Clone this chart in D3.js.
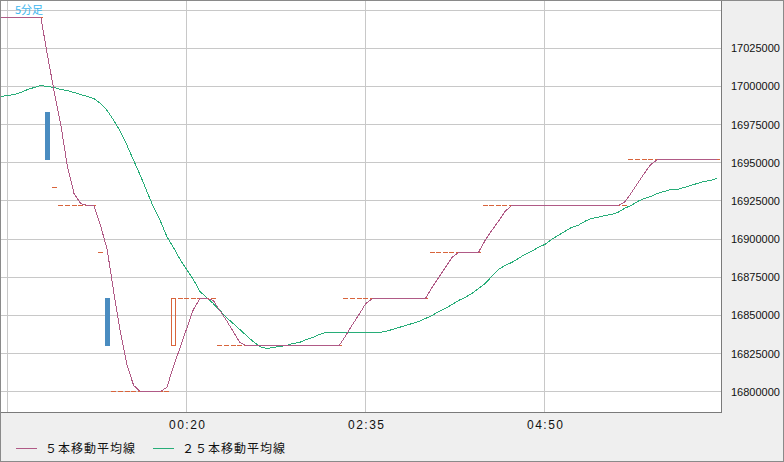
<!DOCTYPE html>
<html>
<head>
<meta charset="utf-8">
<script src="https://cdn.jsdelivr.net/npm/d3@7"></script>
<style>
  body { margin: 0; background: #fff; }
  svg { display: block; font-family: "Liberation Sans", Arial, sans-serif; }
</style>
</head>
<body>
<div id="chart"></div>
<script>
// frame constants
const FRAME_WIDTH = 784;
const FRAME_HEIGHT = 462;
const PLOT = {left: 1, top: 1, right: 721, bottom: 412};

// 5 minute bars, 22:00 .. 07:00
const START_MIN = 22 * 60;
const times = d3.range(109).map(i => {
	const m = (START_MIN + i * 5) % 1440;
	return String(Math.floor(m / 60)).padStart(2, "0") + ":" + String(m % 60).padStart(2, "0");
});

// candle opens / closes (no wicks visible in this chart)
const opens = [
	17045000, 17045000, 17045000, 17045000, 17045000, 17045000, 17045000,
	16983000, 16934000,
	16922000, 16922000, 16922000, 16922000, 16922000, 16922000,
	16891000, 16861000,
	16800000, 16800000, 16800000, 16800000, 16800000, 16800000, 16800000, 16800000, 16800000,
	16830000,
	16861000, 16861000, 16861000, 16861000, 16861000, 16861000,
	16830000, 16830000, 16830000, 16830000, 16830000, 16830000, 16830000, 16830000, 16830000, 16830000,
	16830000, 16830000, 16830000, 16830000, 16830000, 16830000, 16830000, 16830000, 16830000,
	16861000, 16861000, 16861000, 16861000, 16861000, 16861000, 16861000, 16861000, 16861000, 16861000,
	16861000, 16861000, 16861000,
	16891000, 16891000, 16891000, 16891000, 16891000, 16891000, 16891000, 16891000,
	16922000, 16922000, 16922000, 16922000, 16922000, 16922000, 16922000, 16922000, 16922000, 16922000,
	16922000, 16922000, 16922000, 16922000, 16922000, 16922000, 16922000, 16922000, 16922000, 16922000,
	16922000, 16922000,
	16952000, 16952000, 16952000, 16952000, 16952000, 16952000, 16952000, 16952000, 16952000, 16952000,
	16952000, 16952000, 16952000, 16952000
];
const closes = [
	17045000, 17045000, 17045000, 17045000, 17045000, 17045000, 17045000,
	16952000, 16934000,
	16922000, 16922000, 16922000, 16922000, 16922000, 16922000,
	16891000, 16830000,
	16800000, 16800000, 16800000, 16800000, 16800000, 16800000, 16800000, 16800000, 16800000,
	16861000,
	16861000, 16861000, 16861000, 16861000, 16861000, 16861000,
	16830000, 16830000, 16830000, 16830000, 16830000, 16830000, 16830000, 16830000, 16830000, 16830000,
	16830000, 16830000, 16830000, 16830000, 16830000, 16830000, 16830000, 16830000, 16830000,
	16861000, 16861000, 16861000, 16861000, 16861000, 16861000, 16861000, 16861000, 16861000, 16861000,
	16861000, 16861000, 16861000,
	16891000, 16891000, 16891000, 16891000, 16891000, 16891000, 16891000, 16891000,
	16922000, 16922000, 16922000, 16922000, 16922000, 16922000, 16922000, 16922000, 16922000, 16922000,
	16922000, 16922000, 16922000, 16922000, 16922000, 16922000, 16922000, 16922000, 16922000, 16922000,
	16922000, 16922000,
	16952000, 16952000, 16952000, 16952000, 16952000, 16952000, 16952000, 16952000, 16952000, 16952000,
	16952000, 16952000, 16952000, 16952000
];

// 5 bar moving average
const ma5 = [
	17045000, 17045000, 17045000, 17045000, 17045000, 17045000, 17045000,
	17020600, 16997000, 16975400, 16947300, 16929600, 16923000, 16922000, 16922000,
	16909200, 16892900, 16864700, 16838500, 16816900, 16803800,
	16800000, 16800000, 16800000, 16800000,
	16802500, 16816400, 16828700, 16841200, 16853600, 16861000, 16861000, 16860000,
	16853000, 16846500, 16839500, 16832500,
	16830000, 16830000, 16830000, 16830000, 16830000, 16830000, 16830000, 16830000,
	16830000, 16830000, 16830000, 16830000, 16830000, 16830000, 16830000,
	16836900, 16843800, 16850600, 16857500,
	16861000, 16861000, 16861000, 16861000, 16861000, 16861000, 16861000, 16861000, 16861000,
	16868000, 16874800, 16881300, 16887700,
	16891000, 16891000, 16891000, 16891500,
	16898800, 16905300, 16911700, 16918200,
	16922000, 16922000, 16922000, 16922000, 16922000, 16922000, 16922000, 16922000, 16922000,
	16922000, 16922000, 16922000, 16922000, 16922000, 16922000, 16922000, 16922000,
	16924000, 16930100, 16936400, 16942900, 16949100,
	16952000, 16952000, 16952000, 16952000, 16952000, 16952000, 16952000, 16952000, 16952000, 16952000
];

// 25 bar moving average
const ma25 = [
	16993400, 16993900, 16994500, 16996000, 16997700, 16999000, 17000300, 16999800, 16999000, 16998200,
	16997200, 16996000, 16994700, 16993400, 16991800, 16988600, 16984300, 16978000, 16970200, 16961000,
	16951200, 16941700, 16930900, 16921000, 16911900, 16901400, 16894200, 16886300, 16879800, 16873200,
	16865700, 16861400, 16857500, 16852900, 16848300, 16844400, 16840500, 16836900, 16832600, 16829300,
	16828300, 16828800, 16829600, 16830400, 16831300, 16832400, 16834200, 16835500, 16837200, 16838800,
	16839100, 16838500, 16838500, 16838500, 16838500, 16838500, 16838500, 16838500, 16839500, 16840700,
	16842000, 16843300, 16844700, 16846100, 16847900, 16849900, 16852300, 16854700, 16857200, 16859700,
	16862000, 16864400, 16867300, 16871200, 16875500, 16879800, 16882600, 16884900, 16887300, 16889600,
	16891900, 16894300, 16896700, 16899500, 16902300, 16905100, 16907300, 16909200, 16911200, 16913200,
	16914200, 16915300, 16916400, 16917600, 16920000, 16922300, 16924800, 16926600, 16928200, 16929900,
	16931500, 16932200, 16932800, 16934000, 16935100, 16936300, 16937500, 16938700, 16939800
];

// axis ticks
const yTicks = [16800000, 16825000, 16850000, 16875000, 16900000, 16925000, 16950000, 16975000, 17000000, 17025000];
const yGrid = yTicks.concat([17050000]);
const xGrid = ["22:05", "00:20", "02:35", "04:50"];
const xTickLabels = ["00:20", "02:35", "04:50"];

const legendNames = ["５本移動平均線", "２５本移動平均線"];
const COLORS = {ma5: "#b05a86", ma25: "#27ad78", up: "#d8643c", down: "#4a8cc0",
				grid: "#c8c8c8", panel: "#efefef", border: "#7a7a7a"};

const svg = d3.select("#chart")
	.append("svg")
		.attr("width", FRAME_WIDTH)
		.attr("height", FRAME_HEIGHT);

// panels
svg.append("rect").attr("x", 0).attr("y", 0).attr("width", FRAME_WIDTH).attr("height", FRAME_HEIGHT)
	.attr("fill", COLORS.panel);
svg.append("rect").attr("x", PLOT.left).attr("y", PLOT.top)
	.attr("width", PLOT.right - PLOT.left).attr("height", PLOT.bottom - PLOT.top)
	.attr("fill", "#fff");

// scales
const X_SCALE = d3.scalePoint().domain(times).range([1.1, 717.1]);
const Y_SCALE = d3.scaleLinear().domain([16800000, 17025000]).range([391.7, 48.3]);
const px = v => Math.floor(v) + 0.5;

svg.append("defs").append("clipPath").attr("id", "plotclip")
	.append("rect").attr("x", PLOT.left).attr("y", PLOT.top)
	.attr("width", PLOT.right - PLOT.left).attr("height", PLOT.bottom - PLOT.top);

const plot = svg.append("g").attr("clip-path", "url(#plotclip)");

// grid
plot.selectAll(".hgrid").data(yGrid).enter().append("line")
	.attr("x1", PLOT.left).attr("x2", PLOT.right)
	.attr("y1", d => px(Y_SCALE(d))).attr("y2", d => px(Y_SCALE(d)))
	.attr("stroke", COLORS.grid).attr("shape-rendering", "crispEdges");
plot.selectAll(".vgrid").data(xGrid).enter().append("line")
	.attr("x1", d => px(X_SCALE(d))).attr("x2", d => px(X_SCALE(d)))
	.attr("y1", PLOT.top).attr("y2", PLOT.bottom)
	.attr("stroke", COLORS.grid).attr("shape-rendering", "crispEdges");

// candles
const bars = times.map((t, i) => ({t: t, o: opens[i], c: closes[i]}));
const BODY_W = 5;
plot.selectAll(".candle").data(bars).enter().append("rect")
	.attr("class", "candle")
	.attr("x", d => Math.round(X_SCALE(d.t) - BODY_W / 2) + (d.c > d.o ? 0.5 : 0))
	.attr("y", d => {
		if (d.o === d.c) return Math.floor(Y_SCALE(d.o));
		return Math.floor(Y_SCALE(Math.max(d.o, d.c))) + (d.c > d.o ? 0.5 : 0);
	})
	.attr("width", d => d.c > d.o ? BODY_W - 1 : BODY_W)
	.attr("height", d => {
		if (d.o === d.c) return 1;
		const h = Math.floor(Y_SCALE(Math.min(d.o, d.c))) - Math.floor(Y_SCALE(Math.max(d.o, d.c)));
		return d.c > d.o ? h : h + 1;
	})
	.attr("fill", d => d.c < d.o ? COLORS.down : (d.c > d.o ? "none" : COLORS.up))
	.attr("stroke", d => d.c > d.o ? COLORS.up : "none")
	.attr("shape-rendering", "crispEdges");

// moving averages, drawn as aliased 1px polylines like the original
const lineFor = vals => d3.line()
	.x((d, i) => X_SCALE(times[i]))
	.y(d => px(Y_SCALE(d)))(vals);

plot.append("path").attr("d", lineFor(ma25))
	.attr("fill", "none").attr("stroke", COLORS.ma25).attr("stroke-width", 1)
	.attr("shape-rendering", "crispEdges");
plot.append("path").attr("d", lineFor(ma5))
	.attr("fill", "none").attr("stroke", COLORS.ma5).attr("stroke-width", 1)
	.attr("shape-rendering", "crispEdges");

// chart title
svg.append("text").attr("x", 15).attr("y", 14)
	.attr("font-family", "'Noto Sans CJK JP', sans-serif")
	.attr("font-size", 11).attr("fill", "#3cb6ee")
	.text("5分足");

// right axis labels
svg.selectAll(".ylab").data(yTicks).enter().append("text")
	.attr("x", 731).attr("y", d => Y_SCALE(d) + 4)
	.attr("font-size", 11).attr("fill", "#111")
	.text(d => d);

// bottom axis labels
svg.selectAll(".xlab").data(xTickLabels).enter().append("text")
	.attr("x", d => X_SCALE(d) + 1).attr("y", 429)
	.attr("text-anchor", "middle").attr("font-size", 12).attr("fill", "#111")
	.attr("letter-spacing", 1.5)
	.text(d => d);

// borders
svg.append("path")
	.attr("d", "M" + PLOT.left + "," + (PLOT.bottom + 0.5) + "H" + (PLOT.right + 0.5) + "V" + PLOT.top)
	.attr("fill", "none").attr("stroke", COLORS.border).attr("shape-rendering", "crispEdges");
svg.append("rect").attr("x", 0.5).attr("y", 0.5).attr("width", FRAME_WIDTH - 1).attr("height", FRAME_HEIGHT - 1)
	.attr("fill", "none").attr("stroke", "#8a8a8a").attr("shape-rendering", "crispEdges");

// legend
const legendX = [16, 153];
const legendColors = [COLORS.ma5, COLORS.ma25];
legendNames.forEach((name, i) => {
	svg.append("line").attr("x1", legendX[i]).attr("x2", legendX[i] + 21)
		.attr("y1", 448.5).attr("y2", 448.5)
		.attr("stroke", legendColors[i]).attr("shape-rendering", "crispEdges");
	svg.append("text").attr("x", legendX[i] + 29).attr("y", 453)
		.attr("font-family", "'Noto Sans CJK JP', sans-serif")
		.attr("font-size", 12).attr("letter-spacing", 1).attr("fill", "#111")
		.text(name);
});
</script>
</body>
</html>
